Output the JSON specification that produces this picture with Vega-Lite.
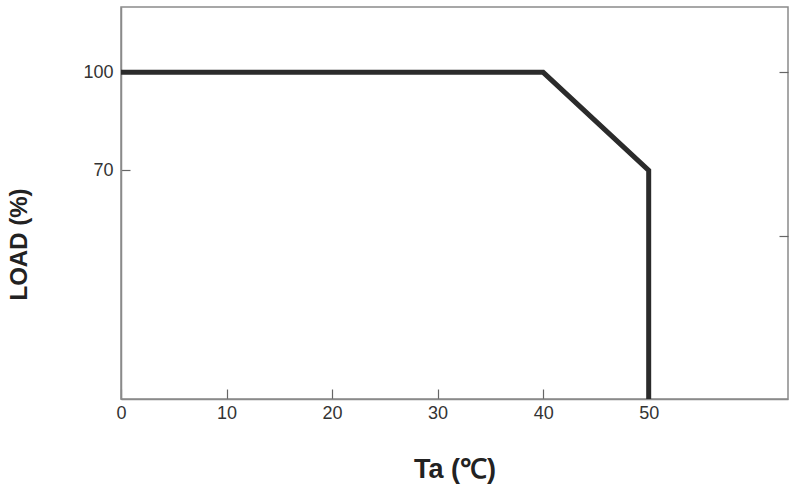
{
  "$schema": "https://vega.github.io/schema/vega-lite/v6.json",
  "width": 667,
  "height": 392,
  "autosize": "none",
  "padding": {"left": 121, "top": 7, "right": 10, "bottom": 93},
  "background": "white",
  "config": {
    "font": "Liberation Sans",
    "view": {"stroke": "#8a8a8a", "strokeWidth": 1.5},
    "axis": {"grid": false, "domainColor": "#8a8a8a", "domainWidth": 1.5, "tickColor": "#666666", "tickWidth": 1.2, "labelColor": "#333333", "labelFont": "Liberation Sans", "labelFontSize": 18, "titleColor": "#222222", "titleFont": "Liberation Sans"}
  },
  "data": {
    "values": [
      {"ta": 0, "load": 100, "seq": 1},
      {"ta": 40, "load": 100, "seq": 2},
      {"ta": 50, "load": 70, "seq": 3},
      {"ta": 50, "load": 0, "seq": 4}
    ]
  },
  "resolve": {"axis": {"y": "independent"}},
  "layer": [
    {
      "mark": {"type": "line", "color": "#2b2b2b", "strokeWidth": 5, "strokeJoin": "miter", "clip": true},
      "encoding": {
        "x": {
          "field": "ta", "type": "quantitative",
          "scale": {"domain": [0, 63.2], "nice": false, "zero": false},
          "axis": {"values": [0, 10, 20, 30, 40, 50], "tickSize": -10, "labelPadding": 15, "title": "Ta (℃)", "titleFontSize": 27, "titleFontWeight": "bold", "titleY": 78, "titleBaseline": "alphabetic", "labelFlush": false}
        },
        "y": {
          "field": "load", "type": "quantitative",
          "scale": {"domain": [0, 120], "nice": false, "zero": false},
          "axis": {"values": [70, 100], "tickSize": -9, "labelPadding": 17, "title": "LOAD (%)", "titleFontSize": 24, "titleFontWeight": "bold", "titleAngle": -90, "titleX": -95, "titleY": 237, "titleAlign": "center", "titleBaseline": "alphabetic", "labelFlush": false}
        },
        "order": {"field": "seq", "type": "quantitative"}
      }
    },
    {
      "mark": {"type": "line", "strokeOpacity": 0},
      "encoding": {
        "x": {"field": "ta", "type": "quantitative"},
        "y": {
          "field": "load", "type": "quantitative",
          "axis": {"orient": "right", "values": [50, 100], "tickSize": -9, "labels": false, "title": null, "domain": false}
        },
        "order": {"field": "seq", "type": "quantitative"}
      }
    }
  ]
}
